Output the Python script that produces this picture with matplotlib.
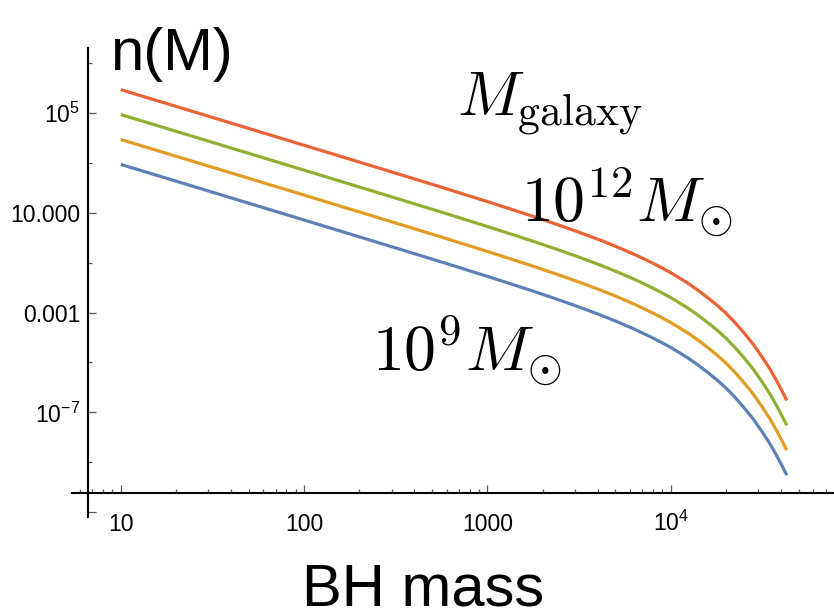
import matplotlib.pyplot as plt
from matplotlib.ticker import FixedLocator, FixedFormatter, NullFormatter

plt.rcParams['font.family'] = ['Liberation Sans', 'DejaVu Sans']
plt.rcParams['mathtext.fontset'] = 'custom'
plt.rcParams['mathtext.rm'] = 'Liberation Sans'
plt.rcParams['mathtext.it'] = 'Liberation Sans:italic'

# values (BH mass vs n(M), one list per galaxy mass)
bh_mass = [10, 31.6, 100, 316, 562, 1000, 1330, 1780, 2370, 3160, 4220, 5010, 6310, 7940, 8910,
           1e4, 1.12e4, 1.26e4, 1.41e4, 1.58e4, 1.78e4, 2e4, 2.24e4, 2.51e4, 2.82e4, 3.16e4,
           3.47e4, 3.8e4, 4.07e4, 4.3e4]
n_1e9 = [891, 68.4, 5.22, 0.396, 0.108, 0.0286, 0.0146, 7.29e-3, 3.57e-3, 1.69e-3, 7.64e-4, 4.59e-4,
         2.21e-4, 9.9e-5, 6.4e-5, 4.02e-5, 2.43e-5, 1.42e-5, 7.89e-6, 4.17e-6, 2.07e-6, 9.55e-7,
         4.06e-7, 1.56e-7, 5.4e-8, 1.63e-8, 5.64e-9, 1.75e-9, 6.67e-10, 3.0e-10]
n_1e10 = [8.9e3, 684, 52.2, 3.96, 1.08, 0.286, 0.146, 0.0729, 0.0357, 0.0169, 7.64e-3, 4.59e-3,
          2.21e-3, 9.9e-4, 6.4e-4, 4.02e-4, 2.43e-4, 1.42e-4, 7.89e-5, 4.17e-5, 2.07e-5, 9.55e-6,
          4.06e-6, 1.56e-6, 5.4e-7, 1.63e-7, 5.64e-8, 1.75e-8, 6.67e-9, 3.0e-9]
n_1e11 = [8.9e4, 6.84e3, 522, 39.6, 10.8, 2.86, 1.46, 0.729, 0.357, 0.169, 0.0764, 0.0459,
          0.0221, 9.9e-3, 6.4e-3, 4.02e-3, 2.43e-3, 1.42e-3, 7.89e-4, 4.17e-4, 2.07e-4, 9.55e-5,
          4.06e-5, 1.56e-5, 5.4e-6, 1.63e-6, 5.64e-7, 1.75e-7, 6.67e-8, 3.0e-8]
n_1e12 = [8.9e5, 6.84e4, 5.22e3, 396, 108, 28.6, 14.6, 7.29, 3.57, 1.69, 0.764, 0.459,
          0.221, 0.099, 0.064, 0.0402, 0.0243, 0.0142, 7.89e-3, 4.17e-3, 2.07e-3, 9.55e-4,
          4.06e-4, 1.56e-4, 5.4e-5, 1.63e-5, 5.64e-6, 1.75e-6, 6.67e-7, 3.0e-7]
colors = ['#5E81B5', '#E19C24', '#8FB032', '#EB6235']

x_major = [10, 100, 1000, 1e4]
x_labels = ['10', '100', '1000', r'$\mathregular{10^{4}}$']
y_major = [1e5, 10, 1e-3, 1e-7, 1e-11]
y_labels = [r'$\mathregular{10^{5}}$', '10.000', '0.001', r'$\mathregular{10^{-7}}$', '']
y_minor = [1e7, 1e3, 1e-1, 1e-5, 1e-9]

W, H = 834, 616
fig = plt.figure(figsize=(W / 100, H / 100), dpi=100)
ax = fig.add_axes([72 / W, 1 - 517 / H, (W - 72) / W, (517 - 48) / H])

for n, c in zip([n_1e9, n_1e10, n_1e11, n_1e12], colors):
    ax.plot(bh_mass, n, color=c, lw=2.3, solid_capstyle='butt', solid_joinstyle='round')

ax.set_xscale('log'); ax.set_yscale('log')
ax.set_xlim(10 ** 0.734, 10 ** 4.891); ax.set_ylim(10 ** -11.2, 10 ** 7.62)

# Mathematica-style crossing axes
ax.spines[['top', 'right']].set_visible(False)
for s in ['left', 'bottom']:
    ax.spines[s].set_linewidth(1.5)
ax.spines['left'].set_position(('data', 6.6))
ax.spines['bottom'].set_position(('data', 10 ** -10.25))

ax.xaxis.set_major_locator(FixedLocator(x_major)); ax.xaxis.set_major_formatter(FixedFormatter(x_labels))
ax.xaxis.set_minor_formatter(NullFormatter())
ax.yaxis.set_major_locator(FixedLocator(y_major)); ax.yaxis.set_major_formatter(FixedFormatter(y_labels))
ax.yaxis.set_minor_locator(FixedLocator(y_minor)); ax.yaxis.set_minor_formatter(NullFormatter())

ax.tick_params(which='both', direction='in', color='#555555', width=0.9, labelsize=16.5)
ax.tick_params(which='major', length=5.5); ax.tick_params(which='minor', length=2.8)
ax.tick_params(axis='x', which='major', pad=27); ax.tick_params(axis='y', which='major', pad=5.5)
plt.setp(ax.get_xticklabels(), va='baseline')

fig.text(110 / W, 1 - 70 / H, 'n(M)', fontsize=43, va='baseline')
fig.text(423 / W, 1 - 605 / H, 'BH mass', fontsize=43, ha='center', va='baseline')
fig.text(457 / W, 1 - 116 / H, r'$M_{\mathrm{galaxy}}$', fontsize=45, math_fontfamily='cm', va='baseline')
fig.text(521 / W, 1 - 223 / H, r'$10^{12}M_{\odot}$', fontsize=46, math_fontfamily='cm', va='baseline')
fig.text(372 / W, 1 - 371.5 / H, r'$10^{9}M_{\odot}$', fontsize=46, math_fontfamily='cm', va='baseline')

fig.savefig('out.png', dpi=100)
